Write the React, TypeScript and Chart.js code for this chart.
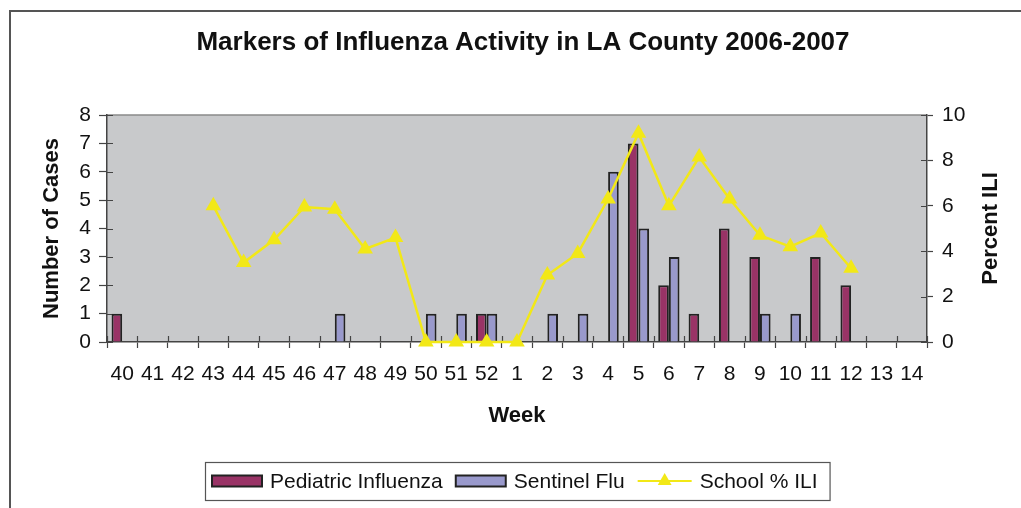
import { useEffect, useRef } from "react";
import { Chart, registerables } from "chart.js";

Chart.register(...registerables);

const weeks = ["40", "41", "42", "43", "44", "45", "46", "47", "48", "49", "50", "51", "52", "1", "2", "3", "4", "5", "6", "7", "8", "9", "10", "11", "12", "13", "14"];
const pediatricFlu = [1, 0, 0, 0, 0, 0, 0, 0, 0, 0, 0, 0, 1, 0, 0, 0, 0, 7, 2, 1, 4, 3, 0, 3, 2, 0, 0];
const sentinelFlu = [0, 0, 0, 0, 0, 0, 0, 1, 0, 0, 1, 1, 1, 0, 1, 1, 6, 4, 3, 0, 0, 1, 1, 0, 0, 0, 0];
const schoolILI = [null, null, null, 6.0, 3.5, 4.5, 5.95, 5.85, 4.1, 4.6, 0, 0, 0, 0, 2.95, 3.9, 6.3, 9.2, 6.0, 8.15, 6.3, 4.7, 4.2, 4.8, 3.25, null, null];
const leftTicks = [0, 1, 2, 3, 4, 5, 6, 7, 8];
const rightTicks = [0, 2, 4, 6, 8, 10];

const chartTitle = "Markers of Influenza Activity in LA County 2006-2007";
const seriesNames = ["Pediatric Influenza", "Sentinel Flu", "School % ILI"];

const FONT = "'Liberation Sans', Arial, Helvetica, sans-serif";
const PED = "#993366";
const SEN = "#9999cc";
const YEL = "#f2e817";
const PLOT_BG = "#c8c9cb";
const AXIS = "#444444";

const decorPlugin = {
  id: "decor",
  beforeDraw(chart: any) {
    const { ctx, chartArea, width, height } = chart;
    ctx.save();
    ctx.fillStyle = "#ffffff";
    ctx.fillRect(0, 0, width, height);
    ctx.strokeStyle = "#555555";
    ctx.lineWidth = 2;
    ctx.beginPath();
    ctx.moveTo(10, height);
    ctx.lineTo(10, 11);
    ctx.lineTo(width, 11);
    ctx.stroke();
    ctx.fillStyle = PLOT_BG;
    ctx.fillRect(chartArea.left, chartArea.top, chartArea.right - chartArea.left, chartArea.bottom - chartArea.top);
    ctx.strokeStyle = "#8a8a8a";
    ctx.lineWidth = 1.5;
    ctx.beginPath();
    ctx.moveTo(chartArea.left, chartArea.top);
    ctx.lineTo(chartArea.right, chartArea.top);
    ctx.stroke();
    ctx.restore();
  },
  beforeDatasetsDraw(chart: any) {
    const { ctx, chartArea, scales } = chart;
    ctx.save();
    ctx.strokeStyle = AXIS;
    ctx.lineWidth = 1.2;
    ctx.beginPath();
    for (const v of leftTicks) {
      const y = Math.round(scales.y.getPixelForValue(v)) + 0.5;
      ctx.moveTo(chartArea.left, y);
      ctx.lineTo(chartArea.left + 6, y);
    }
    for (const v of rightTicks) {
      const y = Math.round(scales.y1.getPixelForValue(v)) + 0.5;
      ctx.moveTo(chartArea.right - 6, y);
      ctx.lineTo(chartArea.right, y);
    }
    const n = weeks.length;
    const step = (chartArea.right - chartArea.left) / n;
    for (let i = 0; i <= n; i++) {
      const x = Math.round(chartArea.left + i * step) + 0.5;
      ctx.moveTo(x, chartArea.bottom - 6);
      ctx.lineTo(x, chartArea.bottom);
    }
    ctx.stroke();
    ctx.restore();
  },
  afterDraw(chart: any) {
    const { ctx, chartArea } = chart;
    ctx.save();
    ctx.fillStyle = "#111111";
    ctx.font = `bold 26px ${FONT}`;
    ctx.textAlign = "center";
    ctx.textBaseline = "middle";
    ctx.fillText(chartTitle, 523, 43);
    ctx.save();
    ctx.translate(991, (chartArea.top + chartArea.bottom) / 2);
    ctx.rotate(-Math.PI / 2);
    ctx.font = `bold 22px ${FONT}`;
    ctx.fillText("Percent ILI", 0, 0);
    ctx.restore();

    ctx.font = `21px ${FONT}`;
    const cy = 481;
    const boxLeft = 205;
    let x = 212;
    const swW = 50;
    const swH = 11;
    const items: any[] = [
      { type: "bar", color: PED, label: seriesNames[0] },
      { type: "bar", color: SEN, label: seriesNames[1] },
      { type: "line", color: YEL, label: seriesNames[2] },
    ];
    ctx.textAlign = "left";
    ctx.textBaseline = "middle";
    items.forEach((it, idx) => {
      if (it.type === "bar") {
        ctx.fillStyle = it.color;
        ctx.fillRect(x, cy - swH / 2, swW, swH);
        ctx.strokeStyle = "#222222";
        ctx.lineWidth = 2;
        ctx.strokeRect(x, cy - swH / 2, swW, swH);
        x += swW + 8;
      } else {
        ctx.strokeStyle = it.color;
        ctx.lineWidth = 2;
        ctx.beginPath();
        ctx.moveTo(x, cy);
        ctx.lineTo(x + 54, cy);
        ctx.stroke();
        ctx.fillStyle = it.color;
        const tx = x + 27;
        const r = 8;
        ctx.beginPath();
        ctx.moveTo(tx, cy - r);
        ctx.lineTo(tx + r * 0.866, cy + r * 0.5);
        ctx.lineTo(tx - r * 0.866, cy + r * 0.5);
        ctx.closePath();
        ctx.fill();
        x += 54 + 8;
      }
      ctx.fillStyle = "#111111";
      ctx.fillText(it.label, x, cy + 1);
      x += ctx.measureText(it.label).width;
      if (idx < items.length - 1) x += 13;
    });
    const boxRight = x + 12;
    ctx.strokeStyle = "#555555";
    ctx.lineWidth = 1.2;
    ctx.strokeRect(boxLeft + 0.5, 462.5, boxRight - boxLeft, 38);
    ctx.restore();
  },
};

export default function App() {
  const canvasRef = useRef<HTMLCanvasElement | null>(null);

  useEffect(() => {
    document.body.style.margin = "0";
    const canvas = canvasRef.current;
    if (!canvas) return;
    const chart = new Chart(canvas, {
      type: "bar",
      data: {
        labels: weeks,
        datasets: [
          {
            type: "bar",
            label: seriesNames[0],
            data: pediatricFlu,
            backgroundColor: PED,
            borderColor: "#222222",
            borderWidth: 2,
            yAxisID: "y",
            order: 1,
          },
          {
            type: "bar",
            label: seriesNames[1],
            data: sentinelFlu,
            backgroundColor: SEN,
            borderColor: "#222222",
            borderWidth: 2,
            yAxisID: "y",
            order: 1,
          },
          {
            type: "line",
            label: seriesNames[2],
            data: schoolILI,
            borderColor: YEL,
            backgroundColor: YEL,
            borderWidth: 2.5,
            pointStyle: "triangle",
            pointRadius: 9,
            pointBorderWidth: 0,
            pointBackgroundColor: YEL,
            tension: 0,
            yAxisID: "y1",
            order: 0,
            clip: false,
          } as any,
        ],
      },
      options: {
        animation: false,
        responsive: false,
        devicePixelRatio: 1,
        categoryPercentage: 0.7,
        barPercentage: 1.0,
        layout: { padding: { top: 115, left: 0, right: 0, bottom: 0 } },
        plugins: {
          legend: { display: false },
          title: { display: false },
          tooltip: { enabled: false },
        },
        scales: {
          x: {
            type: "category",
            offset: true,
            grid: {
              display: true,
              offset: true,
              drawOnChartArea: false,
              drawTicks: true,
              tickLength: 6,
              tickColor: AXIS,
              tickWidth: 1.2,
            },
            border: { display: true, color: AXIS, width: 1.5 },
            ticks: {
              color: "#111111",
              font: { family: FONT, size: 21 },
              padding: 14,
              maxRotation: 0,
              autoSkip: false,
            },
            title: {
              display: true,
              text: "Week",
              color: "#111111",
              font: { family: FONT, size: 22, weight: "bold" },
              padding: { top: 0, bottom: 79 },
            },
            afterFit(scale: any) {
              scale.height = 166;
            },
          },
          y: {
            type: "linear",
            position: "left",
            min: 0,
            max: 8,
            grid: {
              display: true,
              drawOnChartArea: false,
              drawTicks: true,
              tickLength: 8,
              tickColor: AXIS,
              tickWidth: 1.2,
            },
            border: { display: true, color: AXIS, width: 1.5 },
            ticks: {
              stepSize: 1,
              color: "#111111",
              font: { family: FONT, size: 21 },
              padding: 8,
            },
            title: {
              display: true,
              text: "Number of Cases",
              color: "#111111",
              font: { family: FONT, size: 22, weight: "bold" },
              padding: { top: 39, bottom: 0 },
            },
            afterFit(scale: any) {
              scale.width = 107;
            },
          },
          y1: {
            type: "linear",
            position: "right",
            min: 0,
            max: 10,
            grid: {
              display: true,
              drawOnChartArea: false,
              drawTicks: true,
              tickLength: 6,
              tickColor: AXIS,
              tickWidth: 1.2,
            },
            border: { display: true, color: AXIS, width: 1.5 },
            ticks: {
              stepSize: 2,
              color: "#111111",
              font: { family: FONT, size: 21 },
              padding: 9,
            },
            title: { display: false },
            afterFit(scale: any) {
              scale.width = 94;
            },
          },
        },
      } as any,
      plugins: [decorPlugin],
    });
    return () => chart.destroy();
  }, []);

  return (
    <div style={{ width: 1021, height: 508, position: "relative" }}>
      <canvas ref={canvasRef} width={1021} height={508} style={{ display: "block" }} />
    </div>
  );
}
